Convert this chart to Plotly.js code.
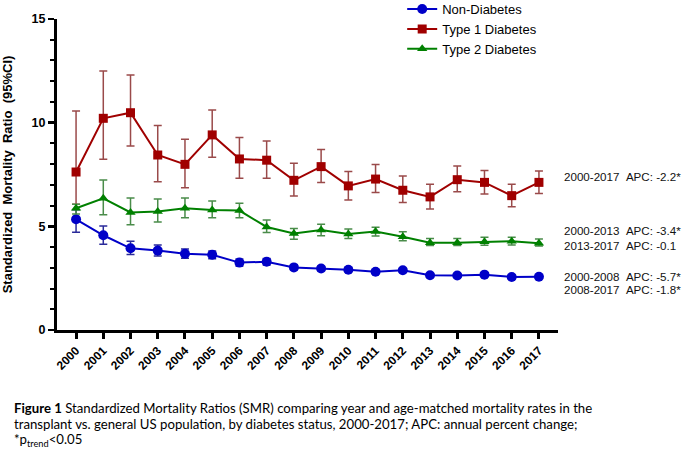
<!DOCTYPE html>
<html><head><meta charset="utf-8">
<script src="https://cdn.plot.ly/plotly-3.0.1.min.js"></script>
<style>html,body{margin:0;padding:0;background:#fff}#chart{width:685px;height:456px}</style>
</head><body><div id="chart"></div>
<script>
const years = [2000,2001,2002,2003,2004,2005,2006,2007,2008,2009,2010,2011,2012,2013,2014,2015,2016,2017];
const yearLabels = years.map(String);

const nonDiab      = [5.34,4.57,3.94,3.83,3.68,3.63,3.25,3.29,3.02,2.97,2.91,2.81,2.88,2.64,2.63,2.67,2.56,2.57];
const nonDiabUpper = [5.80,5.02,4.28,4.10,3.91,3.81,3.42,3.45,3.14,3.08,3.01,2.91,2.98,2.73,2.72,2.76,2.65,2.66];
const nonDiabLower = [4.71,4.13,3.64,3.57,3.46,3.44,3.09,3.14,2.90,2.86,2.81,2.71,2.78,2.55,2.54,2.58,2.47,2.48];

const type1      = [7.62,10.21,10.48,8.44,7.99,9.41,8.25,8.19,7.22,7.88,6.95,7.28,6.74,6.42,7.25,7.12,6.48,7.12];
const type1Upper = [10.56,12.49,12.30,9.86,9.20,10.61,9.29,9.12,8.04,8.70,7.64,7.98,7.43,7.03,7.91,7.69,7.03,7.67];
const type1Lower = [6.06,8.23,8.88,7.15,6.86,8.33,7.32,7.32,6.46,7.12,6.27,6.63,6.15,5.84,6.67,6.56,5.95,6.58];

const type2      = [5.87,6.35,5.67,5.72,5.87,5.79,5.76,4.97,4.65,4.82,4.63,4.75,4.50,4.21,4.21,4.26,4.28,4.19];
const type2Upper = [6.06,7.24,6.37,6.32,6.37,6.22,6.11,5.31,4.90,5.10,4.87,4.96,4.74,4.41,4.41,4.47,4.47,4.39];
const type2Lower = [5.60,5.56,5.08,5.21,5.42,5.42,5.42,4.70,4.38,4.55,4.41,4.53,4.31,4.07,4.07,4.09,4.10,4.05];

const seriesNames = ['Non-Diabetes','Type 1 Diabetes','Type 2 Diabetes'];
const apcLabels = [
  {text:'2000-2017\u00a0\u00a0APC: -2.2*', y:7.39},
  {text:'2000-2013\u00a0\u00a0APC: -3.4*', y:4.78},
  {text:'2013-2017\u00a0\u00a0APC: -0.1',  y:4.07},
  {text:'2000-2008\u00a0\u00a0APC: -5.7*', y:2.56},
  {text:'2008-2017\u00a0\u00a0APC: -1.8*', y:1.95}
];
const captionLines = [
  '<b>Figure 1</b> Standardized Mortality Ratios (SMR) comparing year and age-matched mortality rates in the',
  'transplant vs. general US population, by diabetes status, 2000-2017; APC: annual percent change;',
  '*p<sub>trend</sub><0.05'
];

function errs(v, up, lo){
  return {type:'data', symmetric:false,
    array: v.map((x,i)=>+(up[i]-x).toFixed(3)),
    arrayminus: v.map((x,i)=>+(x-lo[i]).toFixed(3))};
}

function trace(name, v, up, lo, color, ecolor, symbol, size, grp){
  const e = errs(v, up, lo);
  e.color = ecolor; e.thickness = 1.5; e.width = 4;
  return {x: years, y: v, name: name, type:'scatter', mode:'lines+markers',
    legendgroup: grp,
    line:{color: color, width: 2},
    marker:{color: color, symbol: symbol, size: size},
    error_y: e};
}

const data = [
  trace(seriesNames[0], nonDiab, nonDiabUpper, nonDiabLower, '#0000c8', '#2a2a9a', 'circle', 10, 'a'),
  trace(seriesNames[1], type1, type1Upper, type1Lower, '#a00000', '#9a4a4a', 'square', 9, 'b'),
  trace(seriesNames[2], type2, type2Upper, type2Lower, '#008000', '#4a8c4a', 'triangle-up', 9, 'c')
];

const annotations = apcLabels.map(a => ({
  text: a.text, xref:'paper', yref:'y', x:1.008, y:a.y, xanchor:'left', yanchor:'middle',
  showarrow:false, font:{family:'Arial, Liberation Sans, sans-serif', size:11.6, color:'#111'}
}));
const capY = [-0.2492, -0.3023, -0.3553];
captionLines.forEach((t,i)=>annotations.push({
  text:t, xref:'paper', yref:'paper', x:-0.090, y:capY[i], xanchor:'left', yanchor:'middle',
  showarrow:false, align:'left', font:{family:'Lato, Carlito, sans-serif', size:13.2, color:'#000'}
}));

const layout = {
  width:685, height:456,
  margin:{l:57, r:127, t:19, b:126, autoexpand:false},
  paper_bgcolor:'#fff', plot_bgcolor:'#fff',
  showlegend:true,
  legend:{x:0.689, y:1.080, xanchor:'left', yanchor:'top', traceorder:'normal',
    tracegroupgap:1, itemwidth:30,
    font:{family:'Arial, Liberation Sans, sans-serif', size:13, color:'#000'}, bgcolor:'rgba(0,0,0,0)'},
  xaxis:{
    range:[1999.3, 2017.7], tickvals: years, ticktext: yearLabels, tickangle:-45,
    showline:true, linewidth:3, linecolor:'#000', mirror:false,
    ticks:'outside', ticklen:6, tickwidth:3, tickcolor:'#000',
    showgrid:false, zeroline:false,
    tickfont:{family:'Arial, Liberation Sans, sans-serif', size:12, color:'#000', weight:'bold'}
  },
  yaxis:{
    range:[0,15], tickvals:[0,5,10,15], ticktext:['0','5','10','15'],
    showline:true, linewidth:3, linecolor:'#000',
    ticks:'outside', ticklen:6, tickwidth:2.5, tickcolor:'#000',
    minor:{dtick:1, ticks:'outside', ticklen:4, tickwidth:2, tickcolor:'#000', showgrid:false},
    showgrid:false, zeroline:false,
    tickfont:{family:'Arial, Liberation Sans, sans-serif', size:12.5, color:'#000', weight:'bold'},
    title:{text:'Standardized\u00a0\u00a0Mortality\u00a0\u00a0Ratio\u00a0\u00a0(95%CI)', standoff:18,
      font:{family:'Arial, Liberation Sans, sans-serif', size:13, color:'#000', weight:'bold'}}
  },
  annotations: annotations
};

Plotly.newPlot('chart', data, layout, {displayModeBar:false, staticPlot:true});
</script>
</body></html>
